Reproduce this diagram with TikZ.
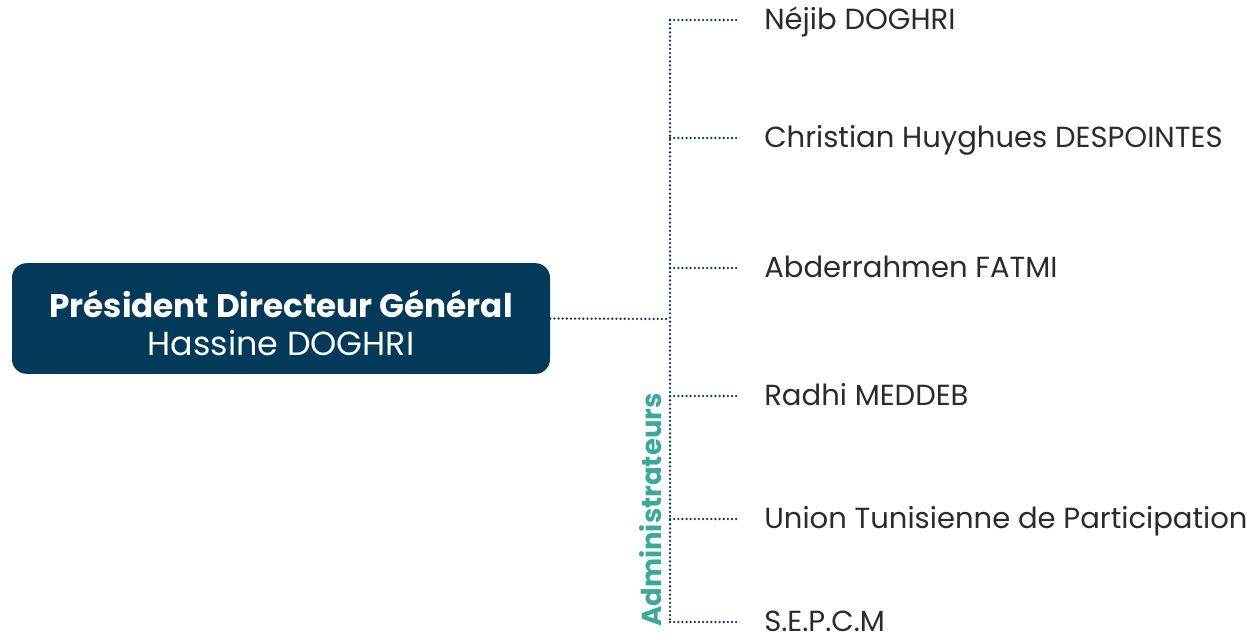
\documentclass[tikz,border=0pt]{standalone}
\usepackage{fontspec}
\setmainfont{Poppins}
\definecolor{navy}{HTML}{033A5A}
\definecolor{teal}{HTML}{3BA99A}
\definecolor{txt}{HTML}{2B2B2B}
\begin{document}
\begin{tikzpicture}[x=0.75pt,y=-0.75pt,
  conn/.style={draw=navy,line width=1.9pt,dash pattern=on 0pt off 3.1pt,line cap=round},
  member/.style={anchor=base west,inner sep=0pt,text=txt,font=\fontsize{21.8}{25}\selectfont},
  pdg/.style={fill=navy,rounded corners=11pt,minimum width=403.5pt,minimum height=83pt,inner sep=0pt},
  pdgtext/.style={text=white,align=center,inner sep=0pt,font=\fontsize{24.5}{28.5}\selectfont}]
\useasboundingbox (0,0) rectangle (1255,639);
\node[pdg] (p) at (281,318.5) {};
\node[pdgtext] (pt) at (281,323) {{\bfseries Président Directeur Général}\\{\fontsize{25}{28.5}\selectfont Hassine DOGHRI}};
\coordinate (j) at (670,319);
\coordinate (top) at (670,20);
\coordinate (bot) at (670,622);
\draw[conn] (p.east) -- (j);
\draw[conn] (top) -- (bot);
\foreach \y/\n/\t in {20/a/Néjib DOGHRI,138/b/Christian Huyghues DESPOINTES,268/c/Abderrahmen FATMI,396/d/Radhi MEDDEB,519/e/Union Tunisienne de Participation,622/f/S.E.P.C.M}{
  \coordinate (s\n) at (670,\y);
  \node[member] (\n) at (764,\y+9) {\t};
  \draw[conn] (s\n) -- (740,\y);
}
\node[rotate=90,anchor=center,inner sep=0pt,text=teal,font=\fontsize{20.6}{24}\selectfont\bfseries] (adm) at (651,510) {Administrateurs};
\end{tikzpicture}
\end{document}
